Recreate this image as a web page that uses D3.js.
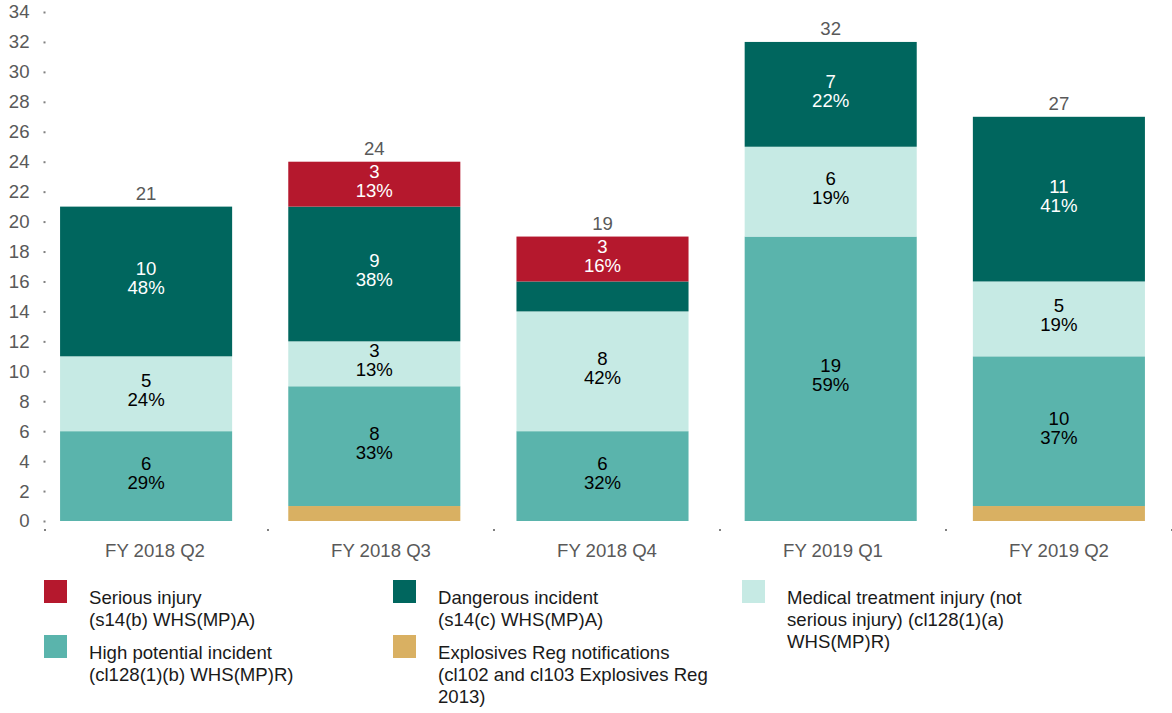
<!DOCTYPE html>
<html><head><meta charset="utf-8">
<script src="https://cdn.jsdelivr.net/npm/d3@7"></script>
<style>body{margin:0;background:#fff;font-family:"Liberation Sans",Arial,sans-serif;}</style>
</head><body><svg id="c" width="1172" height="713"></svg>
<script>
const categories = ["FY 2018 Q2","FY 2018 Q3","FY 2018 Q4","FY 2019 Q1","FY 2019 Q2"];
const explosives = [0,1,0,0,1];
const highPotential = [6,8,6,19,10];
const medical = [5,3,8,6,5];
const dangerous = [10,9,2,7,11];
const serious = [0,3,3,0,0];
const yTicks = d3.range(0,35,2);
const seriesNames = ["Explosives Reg notifications","High potential incident","Medical treatment injury","Dangerous incident","Serious injury"];
const seriesColors = ["#D9B062","#5AB4AC","#C6EAE4","#00665E","#B5182D"];
const labelColors = ["#000","#000","#000","#fff","#fff"];
const legendItems = [
  {c:"#B5182D", lines:["Serious injury","(s14(b) WHS(MP)A)"], col:0,row:0},
  {c:"#00665E", lines:["Dangerous incident","(s14(c) WHS(MP)A)"], col:1,row:0},
  {c:"#C6EAE4", lines:["Medical treatment injury (not","serious injury) (cl128(1)(a)","WHS(MP)R)"], col:2,row:0},
  {c:"#5AB4AC", lines:["High potential incident","(cl128(1)(b) WHS(MP)R)"], col:0,row:1},
  {c:"#D9B062", lines:["Explosives Reg notifications","(cl102 and cl103 Explosives Reg","2013)"], col:1,row:1}
];
const FS = 18.6;

const svg = d3.select("#c");
const allSeries = [explosives, highPotential, medical, dangerous, serious];
const rows = categories.map((c,i)=>{const o={cat:c}; allSeries.forEach((s,k)=>o["s"+k]=s[i]); return o;});
const keys = allSeries.map((s,k)=>"s"+k);
const stack = d3.stack().keys(keys)(rows);
const totals = categories.map((c,i)=>d3.sum(allSeries,s=>s[i]));

const y = d3.scaleLinear().domain([0,34]).range([521,12]);
const xBar = d3.scaleBand().domain(categories).range([32,1173]).paddingInner(0.246).paddingOuter(0.123);
const xAx = d3.scaleBand().domain(categories).range([42,1172]);

// y axis
const yAxis = d3.axisLeft(y).tickValues(yTicks).tickSize(0).tickPadding(15.5);
const gy = svg.append("g").attr("transform","translate(45,0)").call(yAxis);
gy.select(".domain").remove();
gy.selectAll("text").attr("font-family","Liberation Sans, Arial").attr("font-size",FS).attr("fill","#595959");
gy.selectAll(".tick").append("rect").attr("x",-1.5).attr("y",-1).attr("width",2).attr("height",2).attr("fill","#808080");

// x axis
const gx = svg.append("g").attr("transform","translate(0,530)");
const bounds = [xAx.range()[0]+3].concat(categories.map(c=>xAx(c)+xAx.bandwidth()));
gx.selectAll("rect.xt").data(bounds).join("rect").attr("x",d=>d-1).attr("y",-1).attr("width",2).attr("height",2).attr("fill","#808080");
gx.selectAll("text").data(categories).join("text").attr("x",d=>xAx(d)+xAx.bandwidth()/2).attr("y",27)
  .attr("text-anchor","middle").attr("font-size",FS).attr("fill","#595959").text(d=>d);

// bars
stack.forEach((layer,k)=>{
  const g = svg.append("g");
  g.selectAll("rect").data(layer).join("rect")
    .attr("x",d=>xBar(d.data.cat)).attr("width",xBar.bandwidth())
    .attr("y",d=>y(d[1])).attr("height",d=>y(d[0])-y(d[1]))
    .attr("fill",seriesColors[k]);
  layer.forEach((d,i)=>{
    const v = d[1]-d[0];
    if (v>=3){
      const cx = xBar(d.data.cat)+xBar.bandwidth()/2;
      const cy = (y(d[0])+y(d[1]))/2;
      const pct = Math.round(v/totals[i]*100)+"%";
      const t = g.append("text").attr("text-anchor","middle").attr("font-size",FS).attr("fill",labelColors[k]);
      t.append("tspan").attr("x",cx).attr("y",cy-6.5).text(v);
      t.append("tspan").attr("x",cx).attr("y",cy+12.5).text(pct);
    }
  });
});

// totals
svg.append("g").selectAll("text").data(categories).join("text")
  .attr("x",d=>xBar(d)+xBar.bandwidth()/2).attr("y",(d,i)=>y(totals[i])-6.5)
  .attr("text-anchor","middle").attr("font-size",FS).attr("fill","#595959").text((d,i)=>totals[i]);

// legend
const colX = [44,393,742], rowY = [580,635];
legendItems.forEach(it=>{
  const g = svg.append("g").attr("transform",`translate(${colX[it.col]},${rowY[it.row]})`);
  g.append("rect").attr("width",23).attr("height",23).attr("fill",it.c);
  const t = g.append("text").attr("font-size",FS).attr("fill","#1a1a1a");
  it.lines.forEach((l,j)=>t.append("tspan").attr("x",45).attr("y",24+j*22).text(l));
});
</script></body></html>
